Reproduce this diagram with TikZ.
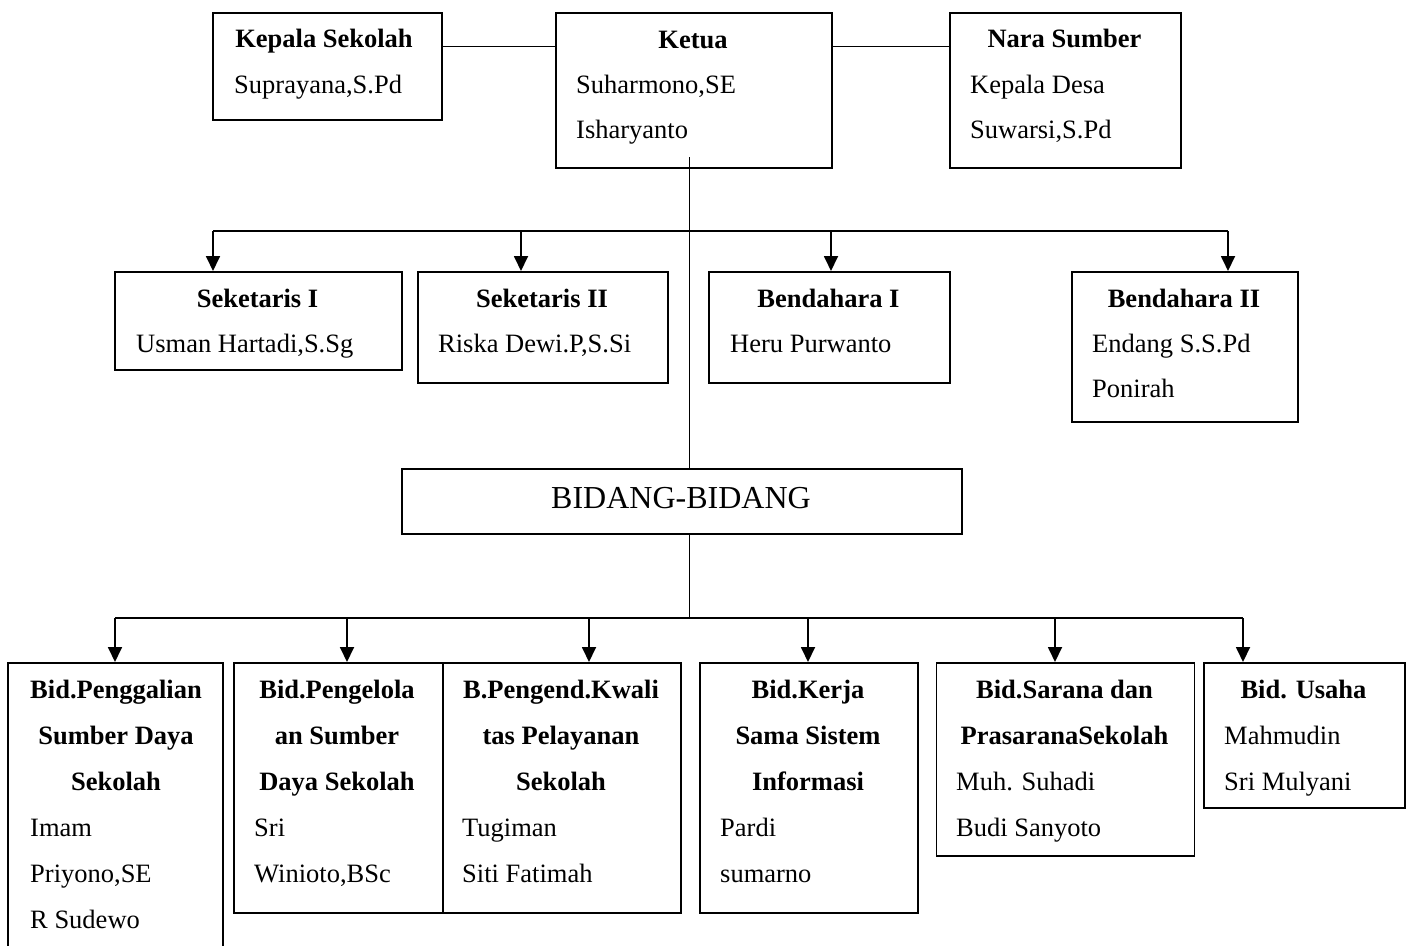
\documentclass[tikz,border=0pt]{standalone}
\usepackage{fontspec}
\setmainfont{Liberation Serif}
\usetikzlibrary{arrows.meta}
\begin{document}
\begin{tikzpicture}[x=1pt,y=-1pt,
  box/.style={draw, line width=1.8pt, inner sep=0pt, anchor=north west},
  conn/.style={line width=1.8pt},
  arr/.style={line width=1.8pt, -{Triangle[width=14pt,length=15pt]}},
  ttl/.style={anchor=base, inner sep=0pt, font=\fontsize{26.5}{30}\selectfont\bfseries},
  nm/.style={anchor=base west, inner sep=0pt, font=\fontsize{26.5}{30}\selectfont},
  big/.style={anchor=base, inner sep=0pt, font=\fontsize{32}{36}\selectfont},
]
\useasboundingbox (0,0) rectangle (1410,945);
\clip (0,0) rectangle (1410,945);

% top row
\node[box, minimum width=229pt, minimum height=107pt] (kepala) at (212,12) {};
\node[box, minimum width=276pt, minimum height=155pt] (ketua) at (555,12) {};
\node[box, minimum width=231pt, minimum height=155pt] (nara) at (949,12) {};
\node[ttl] (tkepala) at (324,47) {Kepala Sekolah};
\node[nm] (nkepala) at (234,93) {Suprayana,S.Pd};
\node[ttl] (tketua) at (693,48) {Ketua};
\node[nm] (nketua1) at (576,93) {Suharmono,SE};
\node[nm] (nketua2) at (576,138) {Isharyanto};
\node[ttl] (tnara) at (1064.5,47) {Nara Sumber};
\node[nm] (nnara1) at (970,93) {Kepala Desa};
\node[nm] (nnara2) at (970,138) {Suwarsi,S.Pd};

% second row
\node[box, minimum width=287pt, minimum height=98pt] (sek1) at (114,271) {};
\node[box, minimum width=250pt, minimum height=111pt] (sek2) at (417,271) {};
\node[box, minimum width=241pt, minimum height=111pt] (bend1) at (708,271) {};
\node[box, minimum width=226pt, minimum height=150pt] (bend2) at (1071,271) {};
\node[ttl] (tsek1) at (257.5,307) {Seketaris I};
\node[nm] (nsek1) at (136,352) {Usman Hartadi,S.Sg};
\node[ttl] (tsek2) at (542,307) {Seketaris II};
\node[nm] (nsek2) at (438,352) {Riska Dewi.P,S.Si};
\node[ttl] (tbend1) at (828.5,307) {Bendahara I};
\node[nm] (nbend1) at (730,352) {Heru Purwanto};
\node[ttl] (tbend2) at (1184,307) {Bendahara II};
\node[nm] (nbend2a) at (1092,352) {Endang S.S.Pd};
\node[nm] (nbend2b) at (1092,397) {Ponirah};

% bidang
\node[box, minimum width=560pt, minimum height=65pt] (bidang) at (401,468) {};
\node[big] (tbidang) at (681,508) {BIDANG-BIDANG};

% bottom row
\node[box, minimum width=215pt, minimum height=300pt] (p1) at (7,662) {};
\node[box, minimum width=208.7pt, minimum height=250pt] (p2) at (233,662) {};
\node[box, minimum width=238.3pt, minimum height=250pt] (p3) at (441.7,662) {};
\node[box, minimum width=218pt, minimum height=250pt] (p4) at (699,662) {};
\node[box, minimum width=258pt, minimum height=193pt] (p5) at (935.5,662) {};
\node[box, minimum width=201pt, minimum height=145pt] (p6) at (1203,662) {};

\node[ttl] (t1a) at (116,698) {Bid.Penggalian};
\node[ttl] (t1b) at (116,744) {Sumber Daya};
\node[ttl] (t1c) at (116,790) {Sekolah};
\node[nm] (n1a) at (30,836) {Imam};
\node[nm] (n1b) at (30,882) {Priyono,SE};
\node[nm] (n1c) at (30,928) {R Sudewo};

\node[ttl] (t2a) at (337,698) {Bid.Pengelola};
\node[ttl] (t2b) at (337,744) {an Sumber};
\node[ttl] (t2c) at (337,790) {Daya Sekolah};
\node[nm] (n2a) at (254,836) {Sri};
\node[nm] (n2b) at (254,882) {Winioto,BSc};

\node[ttl] (t3a) at (561,698) {B.Pengend.Kwali};
\node[ttl] (t3b) at (561,744) {tas Pelayanan};
\node[ttl] (t3c) at (561,790) {Sekolah};
\node[nm] (n3a) at (462,836) {Tugiman};
\node[nm] (n3b) at (462,882) {Siti Fatimah};

\node[ttl] (t4a) at (808,698) {Bid.Kerja};
\node[ttl] (t4b) at (808,744) {Sama Sistem};
\node[ttl] (t4c) at (808,790) {Informasi};
\node[nm] (n4a) at (720,836) {Pardi};
\node[nm] (n4b) at (720,882) {sumarno};

\node[ttl] (t5a) at (1064.5,698) {Bid.Sarana dan};
\node[ttl] (t5b) at (1064.5,744) {PrasaranaSekolah};
\node[nm] (n5a) at (956,790) {Muh. Suhadi};
\node[nm] (n5b) at (956,836) {Budi Sanyoto};

\node[ttl] (t6a) at (1303.5,698) {Bid. Usaha};
\node[nm] (n6a) at (1224,744) {Mahmudin};
\node[nm] (n6b) at (1224,790) {Sri Mulyani};

% connectors
\coordinate (hl) at (0,46.5);
\coordinate (trunk) at (689.5,157);
\coordinate (a1) at (213,231);
\coordinate (a2) at (521,231);
\coordinate (a3) at (831,231);
\coordinate (a4) at (1228,231);
\coordinate (b1) at (115,618);
\coordinate (b2) at (347,618);
\coordinate (b3) at (589,618);
\coordinate (b4) at (808,618);
\coordinate (b5) at (1055,618);
\coordinate (b6) at (1243,618);

\draw[conn] (kepala.east |- hl) -- (ketua.west |- hl);
\draw[conn] (ketua.east |- hl) -- (nara.west |- hl);
\draw[conn] (trunk) -- (trunk |- bidang.north);
\draw[conn] (a1) -- (a4);
\draw[arr] (a1) -- (a1 |- sek1.north);
\draw[arr] (a2) -- (a2 |- sek2.north);
\draw[arr] (a3) -- (a3 |- bend1.north);
\draw[arr] (a4) -- (a4 |- bend2.north);
\draw[conn] (trunk |- bidang.south) -- (trunk |- b1);
\draw[conn] (b1) -- (b6);
\draw[arr] (b1) -- (b1 |- p1.north);
\draw[arr] (b2) -- (b2 |- p2.north);
\draw[arr] (b3) -- (b3 |- p3.north);
\draw[arr] (b4) -- (b4 |- p4.north);
\draw[arr] (b5) -- (b5 |- p5.north);
\draw[arr] (b6) -- (b6 |- p6.north);
\end{tikzpicture}
\end{document}
